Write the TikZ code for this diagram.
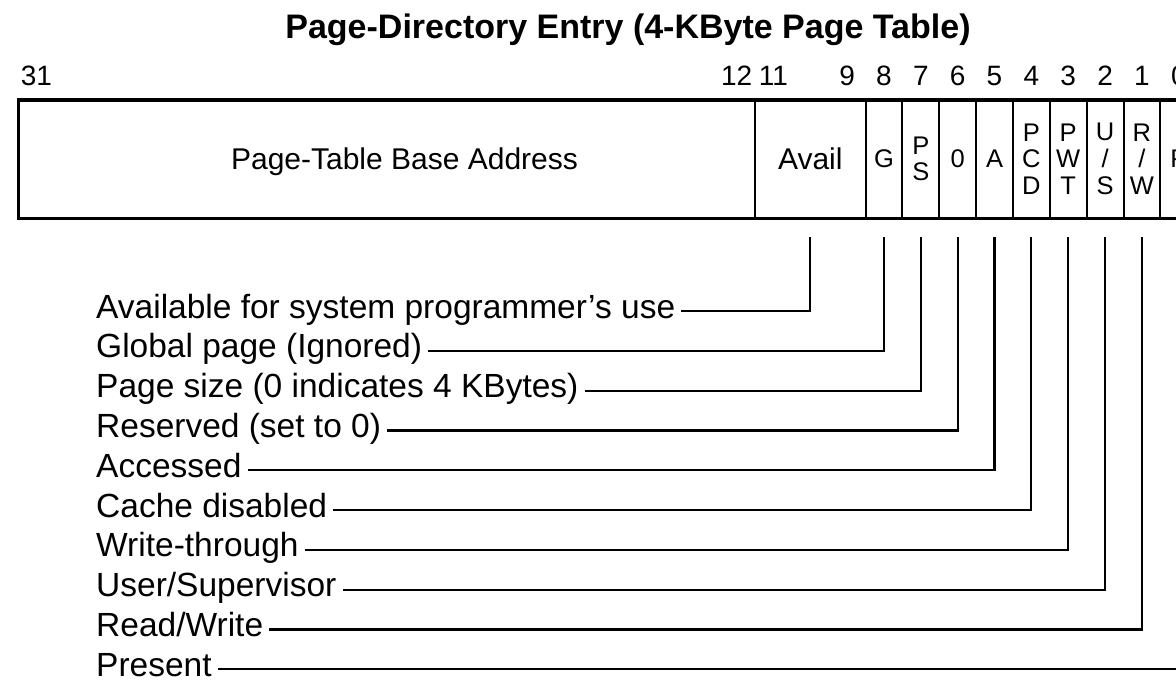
\documentclass[tikz,border=0pt]{standalone}
\usepackage{fontspec}
\setmainfont{Liberation Sans}
\usetikzlibrary{positioning}

\newcommand\bitw{36.85pt}
\newcommand\lblfont{\fontsize{33.5}{40}\selectfont}
\newcommand\fieldfont{\fontsize{30}{32}\selectfont}
\newcommand\flagfont{\fontsize{25.5}{26.7}\selectfont}

\tikzset{
  field/.style={draw, line width=2pt, outer sep=0pt, inner sep=0pt,
    minimum height=118pt, align=center, font=\flagfont},
  flag/.style={field, minimum width=\bitw},
  bitnum/.style={anchor=base, font=\fontsize{28}{30}\selectfont},
  lbl/.style={anchor=west, inner xsep=6pt, inner ysep=0pt,
    text height=17pt, text depth=3pt, font=\lblfont},
  leader/.style={line width=2.2pt},
}

\begin{document}
\begin{tikzpicture}[x=1pt, y=-1pt]
\useasboundingbox (0,0) rectangle (1176,685);

% title and bit numbers
\node[anchor=base, font=\bfseries\fontsize{34}{36}\selectfont] (title) at (628,39)
  {Page-Directory Entry (4-KByte Page Table)};
\foreach \b in {31,12,11,9,8,7,6,5,4,3,2,1,0}
  \node[bitnum] (n\b) at ({18+(31.5-\b)*36.85},85) {\b};

% the entry
\node[field, minimum width=20*\bitw,
  label={[xshift=18pt, yshift=-3pt, font=\fieldfont]center:Page-Table Base Address}] (base) at (386.5,159) {};
\node[field, minimum width=3*\bitw, font=\fieldfont, right=0pt of base] (avail) {Avail};
\node[flag, right=0pt of avail] (g) {G};
\node[flag, right=0pt of g] (ps) {P\\S};
\node[flag, right=0pt of ps] (zero) {0};
\node[flag, right=0pt of zero] (a) {A};
\node[flag, right=0pt of a] (pcd) {P\\C\\D};
\node[flag, right=0pt of pcd] (pwt) {P\\W\\T};
\node[flag, right=0pt of pwt] (us) {U\\/\\S};
\node[flag, right=0pt of us] (rw) {R\\/\\W};
\node[flag, right=0pt of rw] (p) {P};
\draw[line width=3pt] (base.north west) rectangle (p.south east);

% descriptions
\node[lbl] (lavail) at (90,311) {Available for system programmer’s use};
\node[lbl] (lg) at (90,350.8) {Global page (Ignored)};
\node[lbl] (lps) at (90,390.6) {Page size (0 indicates 4 KBytes)};
\node[lbl] (lzero) at (90,430.4) {Reserved (set to 0)};
\node[lbl] (la) at (90,470.2) {Accessed};
\node[lbl] (lpcd) at (90,510) {Cache disabled};
\node[lbl] (lpwt) at (90,549.8) {Write-through};
\node[lbl] (lus) at (90,589.6) {User/Supervisor};
\node[lbl] (lrw) at (90,629.4) {Read/Write};
\node[lbl] (lp) at (90,669.2) {Present};

% leaders
\foreach \f in {avail,g,ps,zero,a,pcd,pwt,us,rw,p}
  \draw[leader] (l\f.east) -| ([yshift=-19pt]\f.south);

\end{tikzpicture}
\end{document}
